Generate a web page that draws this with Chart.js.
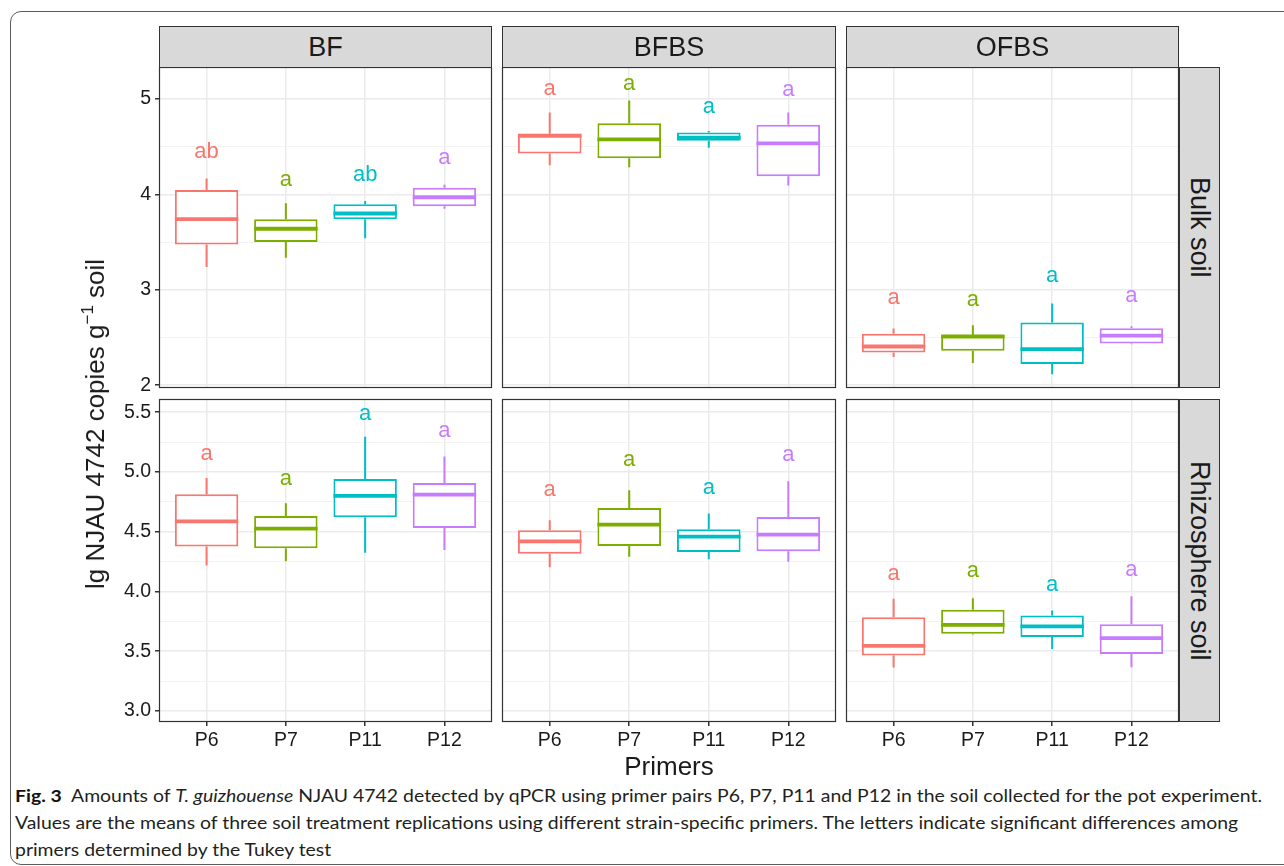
<!DOCTYPE html>
<html>
<head>
<meta charset="utf-8">
<script src="https://cdn.jsdelivr.net/npm/chart.js@4.4.1/dist/chart.umd.min.js"></script>
<style>
  html, body { margin: 0; padding: 0; background: #fff; }
  #fig { position: relative; width: 1284px; height: 866px; overflow: hidden;
         font-family: "Liberation Sans", Arial, sans-serif; color: #1a1a1a; }
  .frame { position: absolute; left: 10px; top: 11px; width: 1330px; height: 852px;
           border: 1.3px solid #5c5c5c; border-radius: 11px; }
  .strip { position: absolute; background: #d9d9d9; border: 1px solid #333; box-sizing: border-box;
           display: flex; align-items: center; justify-content: center;
           font-size: 27px; line-height: 27px; color: #1a1a1a; }
  .strip.side { writing-mode: vertical-rl; }
  .ytitle { position: absolute; left: 94.5px; top: 424px; font-size: 26px; line-height: 26px;
            white-space: nowrap; transform: translate(-50%, -50%) rotate(-90deg); }
  .ytitle sup { font-size: 17px; vertical-align: 11px; line-height: 0; }
  .xtitle { position: absolute; left: 669px; top: 753px; font-size: 26px; line-height: 26px;
            transform: translateX(-50%); white-space: nowrap; }
  .caption { position: absolute; left: 15px; font-family: Lato, "Open Sans", sans-serif;
             font-size: 17.5px; line-height: 27px; color: #231f20; white-space: nowrap;
             transform-origin: left center; }
  .caption b { color: #111; }
</style>
</head>
<body>
<div id="fig">
  <div class="frame"></div>
</div>
<script>
const primers = ['P6', 'P7', 'P11', 'P12'];
const treatments = ['BF', 'BFBS', 'OFBS'];
const soils = ['Bulk soil', 'Rhizosphere soil'];
const primerColors = ['#F8766D', '#7CAE00', '#00BFC4', '#C77CFF'];

// panel order: Bulk BF, Bulk BFBS, Bulk OFBS, Rhizosphere BF, Rhizosphere BFBS, Rhizosphere OFBS
const whiskerLow = [
  [3.24, 3.335, 3.54, 3.85],
  [4.307, 4.286, 4.49, 4.094],
  [2.296, 2.233, 2.114, 2.43],
  [4.217, 4.253, 4.324, 4.346],
  [4.203, 4.29, 4.27, 4.248],
  [3.364, 3.64, 3.518, 3.367]
];
const lowerQuartile = [
  [3.475, 3.50, 3.74, 3.877],
  [4.43, 4.38, 4.563, 4.19],
  [2.342, 2.36, 2.222, 2.437],
  [4.377, 4.362, 4.62, 4.53],
  [4.315, 4.38, 4.33, 4.337],
  [3.465, 3.647, 3.619, 3.476]
];
const medians = [
  [3.74, 3.64, 3.80, 3.97],
  [4.615, 4.577, 4.594, 4.535],
  [2.405, 2.51, 2.377, 2.52],
  [4.586, 4.525, 4.80, 4.81],
  [4.419, 4.559, 4.458, 4.475],
  [3.544, 3.72, 3.708, 3.61]
];
const upperQuartile = [
  [4.045, 3.74, 3.898, 4.07],
  [4.636, 4.745, 4.65, 4.73],
  [2.54, 2.524, 2.657, 2.597],
  [4.813, 4.631, 4.94, 4.908],
  [4.513, 4.698, 4.52, 4.622],
  [3.784, 3.848, 3.798, 3.725]
];
const whiskerHigh = [
  [4.168, 3.906, 3.93, 4.10],
  [4.86, 4.986, 4.664, 4.86],
  [2.594, 2.628, 2.856, 2.618],
  [4.95, 4.737, 5.294, 5.13],
  [4.595, 4.846, 4.653, 4.922],
  [3.94, 3.943, 3.84, 3.96]
];
const tukeyLetters = [
  ['ab', 'a', 'ab', 'a'],
  ['a', 'a', 'a', 'a'],
  ['a', 'a', 'a', 'a'],
  ['a', 'a', 'a', 'a'],
  ['a', 'a', 'a', 'a'],
  ['a', 'a', 'a', 'a']
];
// y value of each letter's baseline
const letterPos = [
  [4.384, 4.09, 4.14, 4.315],
  [5.04, 5.094, 4.857, 5.03],
  [2.856, 2.83, 3.083, 2.873],
  [5.10, 4.89, 5.436, 5.294],
  [4.80, 5.05, 4.813, 5.092],
  [4.10, 4.12, 4.00, 4.128]
];

const yRange = [[1.97, 5.336], [2.908, 5.61]];
const yMajorTicks = [[2, 3, 4, 5], [3, 3.5, 4, 4.5, 5, 5.5]];
const yMinorTicks = [[2.5, 3.5, 4.5], [3.25, 3.75, 4.25, 4.75, 5.25]];
const yTickLabels = [['2', '3', '4', '5'], ['3.0', '3.5', '4.0', '4.5', '5.0', '5.5']];

// page layout of the facet panels
const colLeft = [159, 502, 846];
const colWidth = [333, 334, 333];
const rowTop = [67, 399];
const rowHeight = [321, 323];

Chart.defaults.font.family = '"Liberation Sans", Arial, sans-serif';

const fig = document.getElementById('fig');

const boxParts = {
    id: 'boxParts',
    afterDatasetsDraw(chart, args, opts) {
        const { ctx, chartArea } = chart;
        const y = chart.scales.y;
        const p = opts.panel;
        const meta = chart.getDatasetMeta(0);

        meta.data.forEach((bar, i) => {
            const { x, width } = bar.getProps(['x', 'width'], true);
            const col = primerColors[i];
            ctx.save();
            ctx.strokeStyle = col;
            ctx.lineWidth = 2;
            ctx.beginPath();
            ctx.moveTo(x, y.getPixelForValue(upperQuartile[p][i]));
            ctx.lineTo(x, y.getPixelForValue(whiskerHigh[p][i]));
            ctx.moveTo(x, y.getPixelForValue(lowerQuartile[p][i]));
            ctx.lineTo(x, y.getPixelForValue(whiskerLow[p][i]));
            ctx.stroke();

            // median
            const my = y.getPixelForValue(medians[p][i]);
            ctx.lineWidth = 3.8;
            ctx.beginPath();
            ctx.moveTo(x - width / 2, my);
            ctx.lineTo(x + width / 2, my);
            ctx.stroke();

            // Tukey letters
            ctx.fillStyle = col;
            ctx.font = '22px "Liberation Sans", Arial, sans-serif';
            ctx.textAlign = 'center';
            ctx.textBaseline = 'alphabetic';
            ctx.fillText(tukeyLetters[p][i], x, y.getPixelForValue(letterPos[p][i]));
            ctx.restore();
        });

        ctx.save();
        ctx.strokeStyle = '#333';
        ctx.lineWidth = 1.2;
        ctx.strokeRect(chartArea.left + 0.5, chartArea.top + 0.5, chartArea.width - 1, chartArea.height - 1);
        ctx.restore();
    }
};

function renderPanel(row, col) {
    const p = row * 3 + col;
    const padTop = 20, padRight = 10;
    const padLeft = col === 0 ? 70 : 10;
    const padBottom = row === 1 ? 50 : 20;
    const w = padLeft + colWidth[col] + padRight;
    const h = padTop + rowHeight[row] + padBottom;

    const canvas = document.createElement('canvas');
    canvas.width = w;
    canvas.height = h;
    canvas.style.cssText = `position:absolute;left:${colLeft[col] - padLeft}px;top:${rowTop[row] - padTop}px;width:${w}px;height:${h}px`;
    fig.appendChild(canvas);

    const major = yMajorTicks[row];
    const minor = yMinorTicks[row];
    const majorIndex = v => major.findIndex(m => Math.abs(m - v) < 1e-6);

    new Chart(canvas, {
        type: 'bar',
        data: {
            datasets: [{
                data: primers.map((name, i) => ({ x: i, y: [lowerQuartile[p][i], upperQuartile[p][i]] })),
                backgroundColor: '#ffffff',
                borderColor: primerColors,
                borderWidth: 2,
                borderSkipped: false,
                barPercentage: 0.8,
                categoryPercentage: 1
            }]
        },
        options: {
            responsive: false,
            animation: false,
            events: [],
            layout: {
                padding: { top: padTop, right: padRight, left: col === 0 ? 0 : padLeft, bottom: row === 1 ? 0 : padBottom }
            },
            plugins: {
                legend: { display: false },
                tooltip: { enabled: false },
                boxParts: { panel: p }
            },
            scales: {
                x: {
                    type: 'linear',
                    min: -0.6,
                    max: 3.6,
                    offset: false,
                    border: { display: false },
                    grid: { offset: false, color: '#ebebeb', lineWidth: 1.5, drawTicks: row === 1, tickLength: 4, tickColor: '#333' },
                    ticks: { display: row === 1, font: { size: 19.5 }, color: '#1a1a1a', padding: 3, maxRotation: 0, autoSkip: false,
                             callback: v => primers[v] },
                    afterBuildTicks: s => { s.ticks = primers.map((n, i) => ({ value: i })); },
                    afterFit: s => { s.height = row === 1 ? padBottom : 0; }
                },
                y: {
                    min: yRange[row][0],
                    max: yRange[row][1],
                    border: { display: false },
                    grid: {
                        color: c => majorIndex(c.tick.value) >= 0 ? '#ebebeb' : '#f2f2f2',
                        lineWidth: c => majorIndex(c.tick.value) >= 0 ? 1.5 : 0.9,
                        drawTicks: col === 0,
                        tickLength: 4,
                        tickColor: c => majorIndex(c.tick.value) >= 0 ? '#333' : 'rgba(0,0,0,0)'
                    },
                    ticks: { display: col === 0, font: { size: 19.5 }, color: '#1a1a1a', padding: 4, autoSkip: false,
                             callback: v => { const k = majorIndex(v); return k < 0 ? '' : yTickLabels[row][k]; } },
                    afterBuildTicks: s => { s.ticks = major.concat(minor).sort((a, b) => a - b).map(v => ({ value: v })); },
                    afterFit: s => { s.width = col === 0 ? padLeft : 0; }
                }
            }
        },
        plugins: [boxParts]
    });
}

function renderStrips() {
    treatments.forEach((t, col) => {
        fig.insertAdjacentHTML('beforeend',
            `<div class="strip" style="left:${colLeft[col]}px;top:26px;width:${colWidth[col]}px;height:42px">${t}</div>`);
    });
    soils.forEach((s, row) => {
        fig.insertAdjacentHTML('beforeend',
            `<div class="strip side" style="left:1179px;top:${rowTop[row]}px;width:41px;height:${rowHeight[row]}px">${s}</div>`);
    });
}

function renderTitles() {
    fig.insertAdjacentHTML('beforeend', `
        <div class="ytitle">lg NJAU 4742 copies g<sup>−1</sup> soil</div>
        <div class="xtitle">Primers</div>
        <div class="caption" id="cap1" style="top:782px"><b>Fig. 3</b>&nbsp; Amounts of <i>T. guizhouense</i> NJAU 4742 detected by qPCR using primer pairs P6, P7, P11 and P12 in the soil collected for the pot experiment.</div>
        <div class="caption" id="cap2" style="top:809px">Values are the means of three soil treatment replications using different strain-specific primers. The letters indicate significant differences among</div>
        <div class="caption" id="cap3" style="top:836px">primers determined by the Tukey test</div>
    `);
    // squeeze the caption to the width of the printed one
    const first = document.getElementById('cap1');
    const k = 1247 / first.scrollWidth;
    ['cap1', 'cap2', 'cap3'].forEach(id => {
        document.getElementById(id).style.transform = `scaleX(${k})`;
    });
}

for (let r = 0; r < 2; r++) {
    for (let c = 0; c < 3; c++) renderPanel(r, c);
}
renderStrips();
renderTitles();
</script>
</body>
</html>
